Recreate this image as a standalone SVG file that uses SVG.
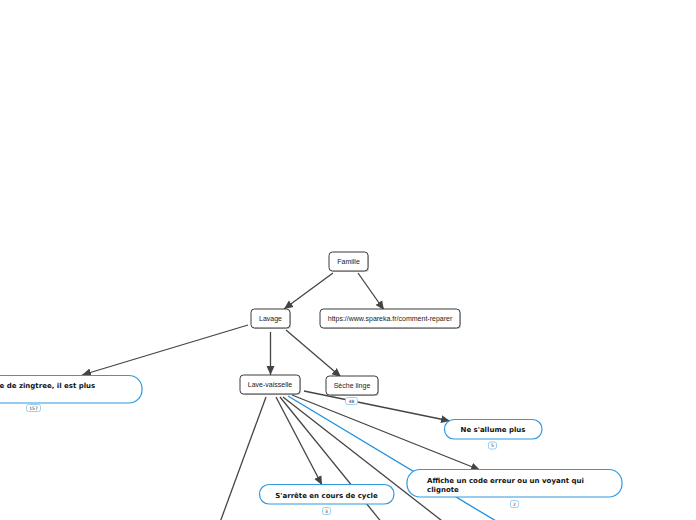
<svg xmlns="http://www.w3.org/2000/svg" width="696" height="520" viewBox="0 0 696 520">
<style>
.g rect.b{fill:#fff;stroke:#3a3a3a;stroke-width:1}
.g rect.s{fill:#bbb;stroke:none;opacity:0.7}
.g text{font-family:"Liberation Sans",Arial,sans-serif;font-size:7px;fill:#222;text-anchor:middle}
.t rect{fill:#fff;stroke:#2e9ae2;stroke-width:1.2}
.t text{font-family:"DejaVu Sans",Verdana,sans-serif;font-size:7px;font-weight:bold;fill:#111}
.bd rect{fill:#fff;stroke:#8ccaf0;stroke-width:0.9}
.bd text{font-family:"DejaVu Sans",sans-serif;font-size:4.5px;fill:#333;text-anchor:middle}
.c line{stroke:#444;stroke-width:1.3}
.c line.bl{stroke:#1e8fde}
</style>
<defs>
<marker id="ah" markerUnits="userSpaceOnUse" markerWidth="10" markerHeight="10" viewBox="0 0 10 10" refX="9" refY="5" orient="auto">
<path d="M0,1 L9,5 L0,9 Z" fill="#444"/>
</marker>
</defs>
<rect width="696" height="520" fill="#fff"/>
<g id="connectors" class="c">
<line x1="333" y1="273" x2="284" y2="309" marker-end="url(#ah)"/>
<line x1="358" y1="273" x2="384" y2="310" marker-end="url(#ah)"/>
<line x1="248" y1="325" x2="82" y2="375" marker-end="url(#ah)"/>
<line x1="270.5" y1="332" x2="270.5" y2="375" marker-end="url(#ah)"/>
<line x1="286" y1="330" x2="341" y2="377" marker-end="url(#ah)"/>
<line x1="304" y1="391" x2="450" y2="421" marker-end="url(#ah)"/>
<line x1="292" y1="395" x2="480" y2="470" marker-end="url(#ah)"/>
<line x1="276" y1="397" x2="322" y2="485" marker-end="url(#ah)"/>
<line x1="266" y1="397" x2="219" y2="525"/>
<line x1="280" y1="397" x2="383" y2="524"/>
<line x1="283" y1="397" x2="446" y2="524"/>
<line class="bl" x1="288" y1="396" x2="501" y2="524"/>
</g>
<g id="n-famille" class="g"><rect class="s" x="330" y="253" width="39" height="19" rx="3.5"/><rect class="b" x="329" y="252" width="39" height="19" rx="3.5"/><text x="348.5" y="264">Famille</text></g>
<g id="n-lavage" class="g"><rect class="s" x="252" y="310" width="39" height="19" rx="3.5"/><rect class="b" x="251" y="309" width="39" height="19" rx="3.5"/><text x="270.5" y="321">Lavage</text></g>
<g id="n-url" class="g"><rect class="s" x="321" y="310" width="140" height="19" rx="3.5"/><rect class="b" x="320" y="309" width="140" height="19" rx="3.5"/><text x="390" y="321" font-size="6.6">https://www.spareka.fr/comment-reparer</text></g>
<g id="n-lave" class="g"><rect class="s" x="241" y="376" width="60" height="19" rx="3.5"/><rect class="b" x="240" y="375" width="60" height="19" rx="3.5"/><text x="270" y="387">Lave-vaisselle</text></g>
<g id="n-seche" class="g"><rect class="s" x="327" y="377" width="52" height="19" rx="3.5"/><rect class="b" x="326" y="376" width="52" height="19" rx="3.5"/><text x="352" y="388">Sèche linge</text></g>
<g id="n-zingtree" class="t"><rect x="-20" y="375.5" width="162" height="27.5" rx="13"/><text x="-0.5" y="387.5">e de zingtree, il est plus</text></g>
<g id="n-allume" class="t"><rect x="444.5" y="419.5" width="97.5" height="19.5" rx="9.5"/><text x="493" y="431.5" text-anchor="middle">Ne s'allume plus</text></g>
<g id="n-affiche" class="t"><rect x="407" y="469.5" width="215" height="27.5" rx="13"/><text x="427" y="482.5">Affiche un code erreur ou un voyant qui</text><text x="427" y="491.5">clignote</text></g>
<g id="n-arrete" class="t"><rect x="259.5" y="484.5" width="134.5" height="19.5" rx="9.5"/><text x="326.5" y="498" text-anchor="middle">S'arrête en cours de cycle</text></g>
<g id="badges" class="bd">
<g id="b-157"><rect x="26.5" y="404.5" width="14" height="7" rx="2"/><text x="33.5" y="409.7">157</text></g>
<g id="b-48"><rect x="345.5" y="397.5" width="12" height="7" rx="2"/><text x="351.5" y="402.7">48</text></g>
<g id="b-5"><rect x="488.5" y="442" width="8" height="7" rx="2"/><text x="492.5" y="447.2">5</text></g>
<g id="b-2"><rect x="510.5" y="500.5" width="8" height="7" rx="2"/><text x="514.5" y="505.7">2</text></g>
<g id="b-3"><rect x="322.5" y="507.5" width="8" height="7" rx="2"/><text x="326.5" y="512.7">3</text></g>
</g>
</svg>
